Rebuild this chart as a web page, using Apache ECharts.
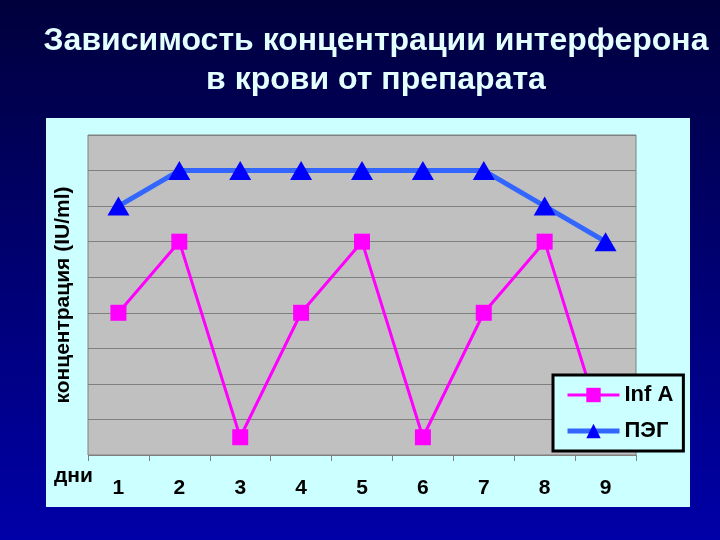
<!DOCTYPE html>
<html>
<head>
<meta charset="utf-8">
<script src="https://cdn.jsdelivr.net/npm/echarts@6/dist/echarts.min.js"></script>
<style>
  html, body { margin: 0; padding: 0; }
  #chart { width: 720px; height: 540px; }
</style>
</head>
<body>
<div id="chart"></div>
<script>
const days = ['1', '2', '3', '4', '5', '6', '7', '8', '9']
const infA = [4, 6, 0.5, 4, 6, 0.5, 4, 6, 0.5]
const peg = [7, 8, 8, 8, 8, 8, 8, 7, 6]

const chart = echarts.init(document.getElementById('chart'))

const option = {
  backgroundColor: new echarts.graphic.LinearGradient(0, 0, 0, 1, [
    { offset: 0, color: '#00003c' },
    { offset: 1, color: '#0000a8' }
  ]),
  title: {
    text: 'Зависимость концентрации интерферона\nв крови от препарата',
    left: 371,
    top: 17,
    textAlign: 'center',
    textStyle: {
      color: '#e4ffff',
      fontFamily: 'Liberation Sans, Arial, sans-serif',
      fontSize: 32,
      fontWeight: 'bold',
      lineHeight: 39
    }
  },
  graphic: [
    {
      type: 'rect',
      z: -10,
      shape: { x: 46, y: 118, width: 644, height: 389 },
      style: { fill: '#ccffff' }
    },
    {
      type: 'text',
      left: 54,
      top: 466,
      style: {
        text: 'дни',
        fill: '#000',
        font: 'bold 21px "Liberation Sans", Arial, sans-serif'
      }
    }
  ],
  grid: {
    left: 88,
    top: 135,
    width: 548,
    height: 320,
    show: true,
    backgroundColor: '#c0c0c0',
    borderColor: '#808080',
    borderWidth: 1
  },
  legend: {
    data: [
      { name: 'Inf A', lineStyle: { width: 3 } },
      { name: 'ПЭГ', lineStyle: { width: 5 } }
    ],
    orient: 'vertical',
    left: 553,
    top: 375,
    padding: [9, 10, 9, 12],
    itemGap: 14,
    itemWidth: 52,
    itemHeight: 18,
    backgroundColor: '#ccffff',
    borderColor: '#000',
    borderWidth: 3,
    textStyle: {
      color: '#000',
      fontFamily: 'Liberation Sans, Arial, sans-serif',
      fontSize: 22,
      fontWeight: 'bold'
    }
  },
  xAxis: {
    type: 'category',
    data: days,
    boundaryGap: true,
    axisLine: { show: false },
    axisTick: { show: true, length: 6, lineStyle: { color: '#808080' } },
    axisLabel: {
      color: '#000',
      fontFamily: 'Liberation Sans, Arial, sans-serif',
      fontSize: 21,
      fontWeight: 'bold',
      margin: 23
    }
  },
  yAxis: {
    type: 'value',
    min: 0,
    max: 9,
    interval: 1,
    name: 'концентрация (IU/ml)',
    nameLocation: 'middle',
    nameRotate: 90,
    nameGap: 14,
    nameTextStyle: {
      color: '#000',
      fontFamily: 'Liberation Sans, Arial, sans-serif',
      fontSize: 21,
      fontWeight: 'bold'
    },
    axisLine: { show: false },
    axisTick: { show: false },
    axisLabel: { show: false },
    splitLine: { lineStyle: { color: '#808080', width: 1 } }
  },
  series: [
    {
      name: 'Inf A',
      type: 'line',
      data: infA,
      symbol: 'rect',
      symbolSize: 16,
      lineStyle: { color: '#ff00ff', width: 3 },
      itemStyle: { color: '#ff00ff' },
      z: 3
    },
    {
      name: 'ПЭГ',
      type: 'line',
      data: peg,
      symbol: 'triangle',
      symbolSize: [22, 19],
      lineStyle: { color: '#3366ff', width: 5 },
      itemStyle: { color: '#0000ff' },
      z: 2
    }
  ]
}

chart.setOption(option)
</script>
</body>
</html>
